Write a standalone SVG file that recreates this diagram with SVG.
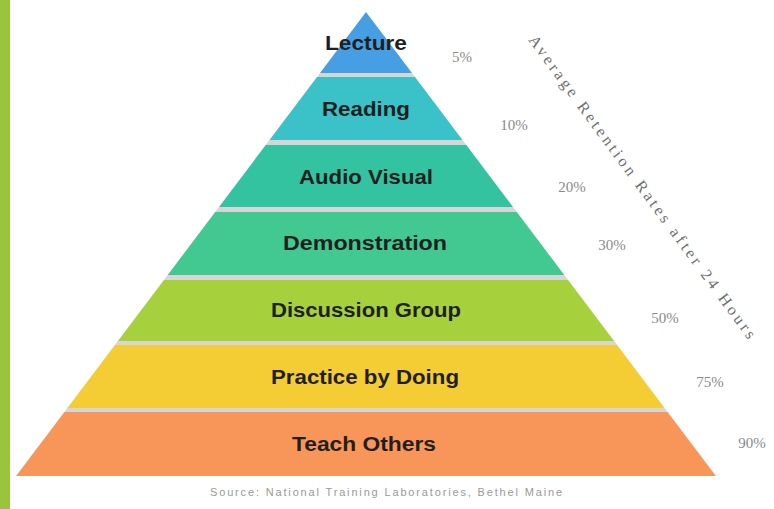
<svg xmlns="http://www.w3.org/2000/svg" width="774" height="509" viewBox="0 0 774 509">
<style>
.lbl{font-family:"Liberation Sans",Arial,sans-serif;font-size:20px;font-weight:bold;fill:#1f1f1f;text-anchor:middle;}
.pct{font-family:"Liberation Serif","Times New Roman",serif;font-size:15px;fill:#8a8a8a;text-anchor:middle;}
.side{font-family:"Liberation Serif","Times New Roman",serif;font-size:16px;fill:#6e6e6e;text-anchor:middle;}
.src{font-family:"Liberation Sans",Arial,sans-serif;font-size:11px;fill:#999;text-anchor:middle;}
.gap{fill:#d6d6d6;}
</style>
<rect x="0" y="0" width="774" height="509" fill="#ffffff"/>
<rect id="left-bar" x="0" y="0" width="10" height="509" fill="#99c43c"/>
<g id="separators">
<polygon class="gap" points="320,73 412,73 415,77 317,77"/>
<polygon class="gap" points="269.5,140 462.5,140 466.3,145 265.7,145"/>
<polygon class="gap" points="219,207 513,207 516.8,212 215.2,212"/>
<polygon class="gap" points="167.7,275 564.3,275 568.1,280 163.9,280"/>
<polygon class="gap" points="117.9,341 614.1,341 617.1,345 114.9,345"/>
<polygon class="gap" points="67.4,408 664.6,408 667.6,412 64.4,412"/>
</g>
<g id="lecture">
<polygon points="366,12 412,73 320,73" fill="#479fe3"/>
<text class="lbl" x="366" y="50" textLength="82" lengthAdjust="spacingAndGlyphs">Lecture</text>
</g>
<g id="reading">
<polygon points="317,77 415,77 462.5,140 269.5,140" fill="#3ac2c8"/>
<text class="lbl" x="366" y="116" textLength="88" lengthAdjust="spacingAndGlyphs">Reading</text>
</g>
<g id="audio-visual">
<polygon points="265.7,145 466.3,145 513,207 219,207" fill="#33c3a0"/>
<text class="lbl" x="366" y="184" textLength="134" lengthAdjust="spacingAndGlyphs">Audio Visual</text>
</g>
<g id="demonstration">
<polygon points="215.2,212 516.8,212 564.3,275 167.7,275" fill="#42c891"/>
<text class="lbl" x="365" y="250" textLength="164" lengthAdjust="spacingAndGlyphs">Demonstration</text>
</g>
<g id="discussion-group">
<polygon points="163.9,280 568.1,280 614.1,341 117.9,341" fill="#a6d13c"/>
<text class="lbl" x="366" y="317" textLength="190" lengthAdjust="spacingAndGlyphs">Discussion Group</text>
</g>
<g id="practice-by-doing">
<polygon points="114.9,345 617.1,345 664.6,408 67.4,408" fill="#f4cc33"/>
<text class="lbl" x="365" y="384" textLength="188" lengthAdjust="spacingAndGlyphs">Practice by Doing</text>
</g>
<g id="teach-others">
<polygon points="64.4,412 667.6,412 715.9,476 16.1,476" fill="#f8965a"/>
<text class="lbl" x="364" y="451" textLength="144" lengthAdjust="spacingAndGlyphs">Teach Others</text>
</g>
<g id="percentages">
<text class="pct" x="462" y="62">5%</text>
<text class="pct" x="514" y="130">10%</text>
<text class="pct" x="572" y="192">20%</text>
<text class="pct" x="612" y="250">30%</text>
<text class="pct" x="665" y="323">50%</text>
<text class="pct" x="710" y="387">75%</text>
<text class="pct" x="752" y="448">90%</text>
</g>
<text class="side" transform="translate(638,190) rotate(53.7)" textLength="372" lengthAdjust="spacing">Average Retention Rates after 24 Hours</text>
<text class="src" x="386" y="496" textLength="352" lengthAdjust="spacing">Source: National Training Laboratories, Bethel Maine</text>
</svg>
